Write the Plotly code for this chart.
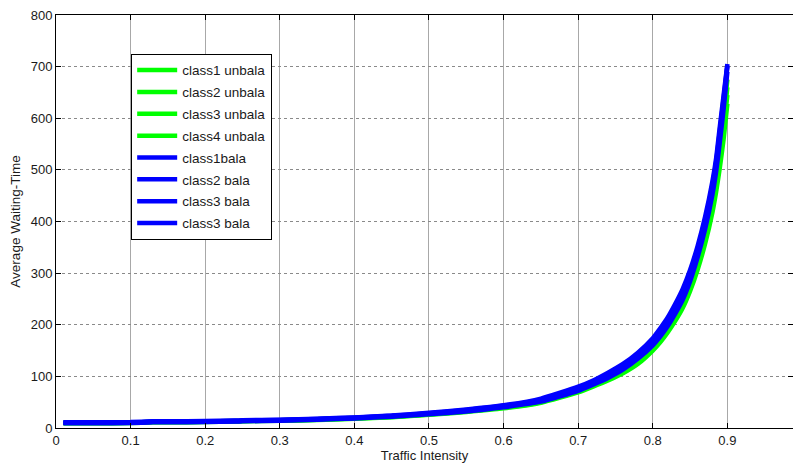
import plotly.graph_objects as go

# Traffic intensity (x) values
traffic = [0.01, 0.05, 0.10, 0.13, 0.15, 0.20, 0.24, 0.25, 0.30, 0.35, 0.40, 0.45, 0.50, 0.55,
           0.60, 0.65, 0.70, 0.72, 0.74, 0.76, 0.78, 0.80, 0.81, 0.82, 0.83, 0.84, 0.85, 0.86,
           0.87, 0.88, 0.885, 0.89, 0.895, 0.90]

# Unbalanced classes (green)
class1_unbala = [9, 9, 9.5, 11, 11, 11.5, 12.5, 13, 14, 15.5, 18, 21, 25.5, 31, 38, 49,
                 69, 80, 92, 106, 124, 150, 166, 185, 207, 232, 265, 306, 356, 418, 458, 505, 560, 628]
class2_unbala = [9.5, 9.5, 10, 11.5, 11.5, 12, 13, 13.5, 14.5, 16, 18.5, 21.5, 26, 32, 39, 50,
                 71, 82, 94, 109, 128, 154, 171, 190, 213, 239, 273, 315, 366, 430, 471, 520, 577, 645]
class3_unbala = [9.5, 9.5, 10, 11.5, 11.5, 12, 13, 13.5, 14.5, 16.5, 19, 22, 26.5, 32.5, 40, 51,
                 72, 83, 96, 111, 131, 157, 174, 194, 217, 244, 279, 322, 374, 439, 481, 532, 590, 660]
class4_unbala = [10, 10, 10.5, 12, 12, 12.5, 13.5, 14, 15, 17, 19.5, 22.5, 27, 33, 41, 52,
                 74, 85, 98, 114, 134, 161, 178, 198, 222, 250, 285, 329, 382, 448, 491, 543, 603, 675]

# Balanced classes (blue)
class1_bala = [10, 10, 10.5, 12, 12, 12.5, 13.5, 14, 15, 17, 19.5, 23, 28, 34, 42, 54,
               76, 88, 102, 118, 140, 167, 185, 205, 230, 258, 295, 340, 395, 465, 510, 570, 630, 700]
class2_bala = [9, 9, 9.5, 11, 11, 11.5, 12.5, 13, 14, 16, 18.5, 22, 26.5, 32, 40, 51,
               72, 84, 97, 113, 134, 160, 177, 197, 221, 248, 284, 330, 384, 452, 497, 555, 618, 690]
class3_bala = [11, 11, 11.5, 13, 13, 13.5, 14.5, 15, 16, 18, 20.5, 24, 29.5, 36, 44, 57,
               80, 92, 107, 124, 146, 174, 193, 214, 240, 269, 306, 352, 408, 478, 523, 585, 645, 705]
class3b_bala = [10, 10, 10.5, 12, 12, 12.5, 13.5, 14, 15.5, 17.5, 20, 23.5, 28.5, 35, 43, 55,
                78, 90, 104, 121, 143, 170, 189, 209, 235, 263, 300, 346, 401, 471, 516, 577, 638, 702]

x_ticks = [0, 0.1, 0.2, 0.3, 0.4, 0.5, 0.6, 0.7, 0.8, 0.9]
x_ticklabels = ["0", "0.1", "0.2", "0.3", "0.4", "0.5", "0.6", "0.7", "0.8", "0.9"]
y_ticks = [0, 100, 200, 300, 400, 500, 600, 700, 800]

series = [
    ("class1 unbala", class1_unbala, "#00ff00"),
    ("class2 unbala", class2_unbala, "#00ff00"),
    ("class3 unbala", class3_unbala, "#00ff00"),
    ("class4 unbala", class4_unbala, "#00ff00"),
    ("class1bala", class1_bala, "#0000ff"),
    ("class2 bala", class2_bala, "#0000ff"),
    ("class3 bala", class3_bala, "#0000ff"),
    ("class3 bala", class3b_bala, "#0000ff"),
]

fig = go.Figure()
for i, (name, vals, col) in enumerate(series):
    fig.add_trace(go.Scatter(
        x=traffic, y=vals, mode="lines", name=name,
        line=dict(color=col, width=4.5, shape="spline", smoothing=0.5),
        legendgroup=f"g{i}",
    ))

font_family = "Liberation Sans, Arial, sans-serif"
fig.update_layout(
    width=793, height=472,
    margin=dict(l=56, r=0, t=15, b=44),
    paper_bgcolor="white", plot_bgcolor="white",
    font=dict(family=font_family, size=13, color="#1a1a1a"),
    showlegend=True,
    legend=dict(
        x=0.102, y=0.906, xanchor="left", yanchor="top",
        bgcolor="white", bordercolor="black", borderwidth=1,
        font=dict(family=font_family, size=13.5, color="#1a1a1a"),
        tracegroupgap=1.3,
        itemwidth=40,
        traceorder="grouped",
    ),
    xaxis=dict(
        range=[0, 0.988], tickvals=x_ticks, ticktext=x_ticklabels,
        showline=True, linecolor="black", linewidth=1, mirror="ticks",
        ticks="inside", ticklen=5, tickcolor="black",
        showgrid=True, gridcolor="#a8a8a8", gridwidth=1,
        zeroline=False, tickfont=dict(size=13),
        title=dict(text="Traffic Intensity", font=dict(size=13), standoff=2),
    ),
    yaxis=dict(
        range=[0, 800], tickvals=y_ticks,
        showline=True, linecolor="black", linewidth=1, mirror="ticks",
        ticks="inside", ticklen=5, tickcolor="black",
        showgrid=True, gridcolor="#8a8a8a", gridwidth=1, griddash="dot",
        zeroline=False, tickfont=dict(size=13),
        title=dict(text="Average Waiting-Time", font=dict(size=13.5), standoff=6),
    ),
)

fig.write_html("out.html")
